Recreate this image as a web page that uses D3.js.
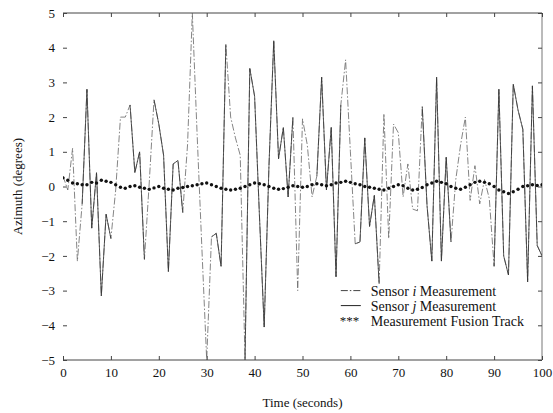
<!DOCTYPE html>
<html>
<head>
<meta charset="utf-8">
<script src="https://cdn.jsdelivr.net/npm/d3@7"></script>
<style>
  body { margin: 0; background: #fff; }
  text { font-family: "Liberation Serif", "DejaVu Serif", serif; fill: #111; }
</style>
</head>
<body>
<div id="chart"></div>
<script>
// azimuth readings, one per second, t = 0..100
var sensorI = [
  0.3, -0.1, 1.1, -2.15, -0.5, 2.8, -1.2, 0.4, -3.15, -0.8,
  -1.5, -0.1, 2.0, 2.0, 2.35, 0.4, 1.0, -2.1, 0.1, 2.5,
  1.8, 0.9, -2.45, 0.65, 0.75, -0.75, 1.2, 5.0, 1.5, -1.8,
  -5.0, -1.45, -1.35, -2.3, 4.1, 2.0, 1.4, 0.9, -5.0, 3.4,
  2.6, -0.8, -4.05, 0.6, 4.2, 0.8, 1.7, -0.3, 2.0, -3.0,
  1.95, 1.2, -0.3, 0.3, 3.15, -0.1, 1.7, -2.6, 2.35, 3.65,
  1.0, -1.65, -1.6, 1.4, -1.15, -0.25, -2.8, 2.1, -1.5, 1.8,
  1.55, -0.3, 0.65, -0.65, -0.7, 2.3, -0.55, -2.15, 3.15, -2.15,
  0.85, -1.6, 0.2, 1.2, 2.0, -0.4, 0.6, -0.5, 0.2, -0.35,
  -2.3, 2.8, -2.0, -2.55, 2.95, 2.2, 1.65, -2.75, 2.9, -1.7,
  -2.0
];
var sensorJ = [
  null, null, null, null, -0.5, 2.8, -1.2, 0.4, -3.15, -0.8,
  -1.5, null, null, null, 2.35, 0.4, 1.0, -2.1, null, 2.5,
  1.8, 0.9, -2.45, 0.65, 0.75, -0.75, null, null, null, null,
  null, -1.45, -1.35, -2.3, 4.1, null, null, null, -5.0, 3.4,
  2.6, -0.8, -4.05, 0.6, 4.2, 0.8, 1.7, -0.3, 2.0, null,
  null, null, null, 0.3, 3.15, -0.1, 1.7, -2.6, 2.35, null,
  null, -1.65, -1.6, 1.4, -1.15, -0.25, -2.8, null, null, null,
  null, null, null, null, null, 2.3, -0.55, -2.15, 3.15, -2.15,
  0.85, -1.6, null, null, null, null, null, null, null, null,
  -2.3, 2.8, -2.0, -2.55, 2.95, 2.2, 1.65, -2.75, 2.9, -1.7,
  -2.0
];
var fusion = [
  0.25, 0.18, 0.1, 0.08, 0.05, 0.05, 0.12, 0.1, 0.18, 0.15,
  0.12, 0.05, -0.02, -0.05, 0.0, 0.02, -0.02, -0.05, -0.08, -0.04,
  0.0, -0.05, -0.08, -0.1, -0.05, -0.03, 0.0, 0.02, 0.05, 0.08,
  0.1, 0.05, 0.0, -0.05, -0.08, -0.1, -0.08, -0.05, 0.0, 0.05,
  0.1, 0.08, 0.05, 0.0, -0.05, -0.08, -0.06, -0.02, 0.02, 0.0,
  -0.02, 0.0, 0.05, 0.08, 0.05, 0.02, 0.05, 0.1, 0.12, 0.15,
  0.12, 0.08, 0.05, 0.0, -0.02, -0.05, -0.08, -0.1, -0.05, 0.0,
  0.05, 0.02, -0.05, -0.1, -0.08, -0.03, 0.05, 0.1, 0.15, 0.12,
  0.08, 0.0, -0.05, -0.08, -0.02, 0.05, 0.12, 0.15, 0.12, 0.08,
  0.0, -0.1, -0.15, -0.2, -0.15, -0.08, 0.0, 0.02, 0.05, 0.03,
  0.05
];
var xTicks = [0, 10, 20, 30, 40, 50, 60, 70, 80, 90, 100];
var yTicks = [-5, -4, -3, -2, -1, 0, 1, 2, 3, 4, 5];

var svgWidth = 553;
var svgHeight = 413;
var margin = { top: 13, right: 11, bottom: 53, left: 63 };
var width = svgWidth - margin.left - margin.right;
var height = svgHeight - margin.top - margin.bottom;

var svg = d3.select("#chart")
  .append("svg")
  .attr("width", svgWidth)
  .attr("height", svgHeight);

var chartGroup = svg.append("g")
  .attr("transform", `translate(${margin.left}, ${margin.top})`);

var x = d3.scaleLinear().domain([0, 100]).range([0, width]);
var y = d3.scaleLinear().domain([-5, 5]).range([height, 0]);

chartGroup.append("defs").append("clipPath").attr("id", "clip")
  .append("rect").attr("width", width).attr("height", height);

// box: top, bottom, right (left edge is faded in the original)
chartGroup.append("line").attr("x1", 0).attr("x2", width).attr("y1", 0).attr("y2", 0)
  .attr("stroke", "#444").attr("stroke-width", 1);
chartGroup.append("line").attr("x1", 0).attr("x2", width).attr("y1", height).attr("y2", height)
  .attr("stroke", "#444").attr("stroke-width", 1);
chartGroup.append("line").attr("x1", width).attr("x2", width).attr("y1", 0).attr("y2", height)
  .attr("stroke", "#777").attr("stroke-width", 1);

// axes with inward ticks
var bottomAxis = d3.axisBottom(x).tickValues(xTicks).tickSize(-4).tickPadding(8);
var leftAxis = d3.axisLeft(y).tickValues(yTicks).tickSize(-4).tickPadding(8);
var topAxis = d3.axisTop(x).tickValues(xTicks).tickSize(-4).tickFormat("");
var rightAxis = d3.axisRight(y).tickValues(yTicks).tickSize(-4).tickFormat("");

function styleAxis(g) {
  g.select(".domain").remove();
  g.selectAll(".tick line").attr("stroke", "#444");
  g.selectAll(".tick text").style("font-family", '"Liberation Serif", serif')
    .style("font-size", "13px").attr("fill", "#111");
}

chartGroup.append("g").attr("transform", `translate(0, ${height})`).call(bottomAxis).call(styleAxis);
chartGroup.append("g").call(leftAxis).call(styleAxis);
chartGroup.append("g").call(topAxis).call(styleAxis);
chartGroup.append("g").attr("transform", `translate(${width}, 0)`).call(rightAxis).call(styleAxis);

var plot = chartGroup.append("g").attr("clip-path", "url(#clip)");

var lineGen = d3.line()
  .defined(d => d !== null)
  .x((d, i) => x(i))
  .y(d => y(d));

plot.append("path")
  .datum(sensorI)
  .attr("d", lineGen)
  .attr("fill", "none")
  .attr("stroke", "#666")
  .attr("stroke-width", 0.8)
  .attr("stroke-dasharray", "7,2,1.5,2");

plot.append("path")
  .datum(sensorJ)
  .attr("d", lineGen)
  .attr("fill", "none")
  .attr("stroke", "#333")
  .attr("stroke-width", 0.8);

plot.selectAll("circle.fusion")
  .data(fusion)
  .enter()
  .append("circle")
  .attr("class", "fusion")
  .attr("cx", (d, i) => x(i))
  .attr("cy", d => y(d))
  .attr("r", 1.7)
  .attr("fill", "#111");

// legend
var legend = chartGroup.append("g").attr("transform", `translate(${x(58)}, ${y(-3.0)})`);
legend.append("line").attr("x1", 0).attr("x2", 20).attr("y1", 0).attr("y2", 0)
  .attr("stroke", "#444").attr("stroke-dasharray", "7,2,1.5,2");
legend.append("line").attr("x1", 0).attr("x2", 20).attr("y1", 15).attr("y2", 15)
  .attr("stroke", "#222");
legend.append("text").attr("x", -1).attr("y", 34).style("font-size", "13px").text("***");

var labels = [
  ["Sensor ", "i", " Measurement"],
  ["Sensor ", "j", " Measurement"],
  ["Measurement Fusion Track", "", ""]
];
labels.forEach(function (parts, k) {
  var t = legend.append("text").attr("x", 30).attr("y", 5 + k * 15).style("font-size", "14px");
  t.append("tspan").text(parts[0]);
  if (parts[1]) t.append("tspan").style("font-style", "italic").text(parts[1]);
  if (parts[2]) t.append("tspan").text(parts[2]);
});

// axis titles
svg.append("text")
  .attr("x", margin.left + width / 2)
  .attr("y", 407)
  .attr("text-anchor", "middle")
  .style("font-size", "13px")
  .text("Time (seconds)");

svg.append("text")
  .attr("transform", "rotate(-90)")
  .attr("x", -(margin.top + height / 2))
  .attr("y", 22)
  .attr("text-anchor", "middle")
  .style("font-size", "13px")
  .text("Azimuth (degrees)");
</script>
</body>
</html>
